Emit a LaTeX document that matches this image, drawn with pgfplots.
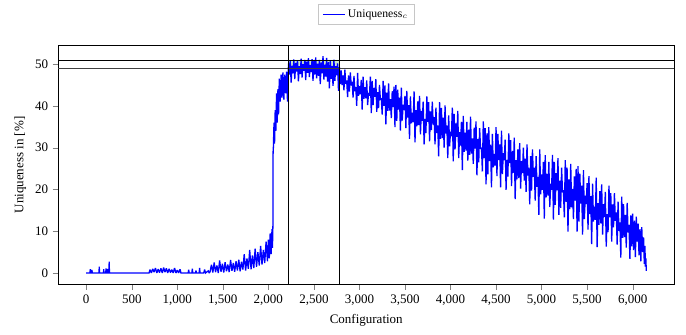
\documentclass[border=0pt]{standalone}
\usepackage{pgfplots}
\pgfplotsset{compat=1.18}
\usepackage{fontspec}
\setmainfont{Liberation Serif}
\definecolor{bandgreen}{RGB}{204,232,204}
\begin{document}
\begin{tikzpicture}
\begin{axis}[
  width=474pt, height=183.5pt, scale only axis,
  xmin=-307.5, xmax=6457.5, ymin=-2.7, ymax=54.4,
  xtick={0,500,...,6000}, ytick={0,10,...,50},
  tick align=outside, tick pos=left,
  /pgf/number format/assume math mode=true,
  /pgf/number format/1000 sep={,},
  xlabel={Configuration}, ylabel={Uniqueness in [\%]},
  tick label style={font=\fontsize{10}{12}\selectfont},
  label style={font=\fontsize{10}{12}\selectfont},
  legend style={at={(0.5,1.088)}, anchor=south, draw=gray!45, font=\fontsize{9}{11}\selectfont},
  legend cell align=left,
]
\addlegendimage{blue, line width=0.6pt}
\addlegendentry{Uniqueness$_c$}
\addplot[fill=bandgreen, draw=none, forget plot] coordinates {(2220,49)(2785,49)(2785,51)(2220,51)(2220,49)};
\addplot[blue, line width=1.0pt, line join=miter, miter limit=2, forget plot] coordinates {
(0,0)(40,0)(45,0.9)(50,0)(60,0)(63,0.7)(66,0)(100,0)(140,0)(143,1.5)(146,0)(190,0)(192,0.9)(195,0)(215,0)(217,1.1)(220,0)(230,0)(232,1)(235,0)(250,0)(252,2.7)(255,0)(690,0)
(700,0.8)(715,0)(730,1)(745,0.2)(760,1.2)(775,0)(790,0.9)(805,0.1)(820,1.1)(835,0)(850,1.3)(865,0.2)(880,1.1)(895,0)(910,1)(925,0.1)(940,0.8)(955,0)(970,1.2)(985,0)(1000,0.7)(1015,0)(1030,0.9)(1040,0)
(1120,0)(1125,0.8)(1130,0)(1160,0)(1165,1)(1170,0)(1200,0)(1205,0.6)(1210,0)(1240,0)(1245,1.2)(1250,0)(1290,0)(1300,0.8)(1310,0)(1340,0.5)(1350,0)
(1360,0.3)(1375,2.0)(1390,0.1)(1405,2.5)(1420,0.2)(1435,1.8)(1450,0)(1465,3.0)(1480,0.3)(1495,2.2)(1510,0.1)(1525,2.6)(1540,0.4)(1555,2.0)(1570,0.2)(1585,3.1)(1600,0.5)(1615,2.4)(1630,0.3)(1645,2.8)(1660,0.6)(1675,3.2)(1690,0.4)(1705,2.7)(1720,0.8)(1735,4.5)(1750,0.6)(1765,3.5)(1780,1.0)(1795,5.5)(1810,0.9)(1825,4.2)(1840,1.2)(1855,5.8)(1870,1.5)(1885,5.0)(1900,1.8)(1915,6.5)(1930,2.0)(1945,5.5)(1960,2.4)(1975,7.5)(1990,2.8)(2000,8.0)(2010,3.5)(2020,9.5)(2030,4.5)(2040,10.5)(2045,6)(2050,11.5)
(2052,29)(2055,30)(2062,36)(2068,31)(2075,39)(2082,34)(2090,43)(2097,36)(2105,44)(2112,38)(2120,46.5)(2130,41)(2140,47.5)(2150,42)(2160,48)(2170,41.5)(2180,47.5)(2190,43)(2200,48.2)(2210,41)(2215,47)
(2222,50.2)(2230,47.5)(2240,50.8)(2250,45.6)(2260,49.6)(2270,47.8)(2280,51.1)(2290,46.4)(2300,50.3)(2310,48.2)(2320,50.9)(2330,45.9)(2340,49.5)(2350,47.6)(2360,51.3)(2370,46.8)(2380,50.0)(2390,48.4)(2400,51.0)(2410,46.2)(2420,50.6)(2430,47.9)(2440,51.4)(2450,46.9)(2460,49.8)(2470,48.1)(2480,51.2)(2490,46.0)(2500,50.7)(2510,47.5)(2520,51.6)(2530,46.6)(2540,50.1)(2550,47.2)(2560,51.0)(2570,45.2)(2580,50.4)(2590,47.8)(2600,51.9)(2610,46.3)(2620,49.9)(2630,47.0)(2640,51.5)(2650,45.8)(2660,50.5)(2670,44.2)(2680,50.8)(2690,46.5)(2700,49.6)(2710,44.8)(2720,51.1)(2730,46.0)(2740,49.5)(2750,47.3)(2760,50.2)(2770,43.6)(2780,49.3)(2790,45.2)
(2800,48.5)(2810,45.0)(2820,47.3)(2830,43.7)(2840,48.7)(2850,45.3)(2860,46.1)(2870,42.1)(2880,47.3)(2890,43.4)(2900,48.0)(2910,44.9)(2920,45.8)(2930,42.0)(2940,47.2)(2950,43.5)(2960,44.5)(2970,40.0)(2980,47.9)(2990,42.4)
(3000,44.7)(3010,42.8)(3020,46.2)(3030,39.1)(3040,47.0)(3050,41.7)(3060,44.5)(3070,41.8)(3080,46.1)(3090,40.2)(3100,43.1)(3110,42.4)(3120,47.0)(3130,38.3)(3140,46.0)(3150,40.2)(3160,44.3)(3170,42.2)(3180,46.4)(3190,38.6)
(3200,43.3)(3210,39.5)(3220,45.0)(3230,41.6)(3240,41.7)(3250,37.9)(3260,46.0)(3270,40.0)(3280,44.9)(3290,35.6)(3300,43.2)(3310,38.8)(3320,45.4)(3330,38.9)(3340,41.6)(3350,37.1)(3360,43.5)(3370,39.7)(3380,44.6)(3390,34.9)
(3400,45.0)(3410,36.4)(3420,43.9)(3430,39.1)(3440,42.0)(3450,34.1)(3460,44.4)(3470,36.5)(3480,40.3)(3490,39.0)(3500,42.4)(3510,34.7)(3520,43.6)(3530,37.2)(3540,40.2)(3550,32.1)(3560,42.3)(3570,35.8)(3580,38.4)(3590,36.1)
(3600,43.5)(3610,31.3)(3620,39.0)(3630,35.1)(3640,41.1)(3650,35.4)(3660,42.4)(3670,33.2)(3680,38.8)(3690,36.4)(3700,41.0)(3710,30.8)(3720,36.9)(3730,33.5)(3740,42.3)(3750,36.2)(3760,40.9)(3770,31.5)(3780,38.7)(3790,34.2)
(3800,41.0)(3810,35.5)(3820,37.3)(3830,30.8)(3840,39.6)(3850,33.5)(3860,35.3)(3870,27.9)(3880,40.9)(3890,32.1)(3900,39.5)(3910,32.3)(3920,37.2)(3930,30.0)(3940,40.1)(3950,33.4)(3960,35.3)(3970,27.5)(3980,37.7)(3990,30.3)
(4000,33.8)(4010,32.7)(4020,39.6)(4030,26.7)(4040,38.1)(4050,29.6)(4060,35.8)(4070,32.6)(4080,38.8)(4090,27.5)(4100,33.7)(4110,30.5)(4120,36.2)(4130,24.6)(4140,37.6)(4150,29.0)(4160,33.6)(4170,29.3)(4180,36.2)(4190,26.9)
(4200,34.3)(4210,28.3)(4220,37.4)(4230,28.6)(4240,32.2)(4250,26.1)(4260,34.8)(4270,29.8)(4280,36.3)(4290,23.4)(4300,32.1)(4310,26.5)(4320,34.7)(4330,29.7)(4340,30.0)(4350,24.3)(4360,36.3)(4370,27.5)(4380,34.7)(4390,21.2)
(4400,33.4)(4410,23.6)(4420,34.9)(4430,26.8)(4440,30.7)(4450,20.5)(4460,33.3)(4470,25.3)(4480,28.5)(4490,25.7)(4500,34.9)(4510,23.2)(4520,33.3)(4530,27.0)(4540,30.8)(4550,20.5)(4560,34.1)(4570,23.7)(4580,28.7)(4590,27.0)
(4600,31.9)(4610,19.9)(4620,27.1)(4630,23.1)(4640,33.4)(4650,26.3)(4660,31.8)(4670,20.8)(4680,29.2)(4690,24.0)(4700,32.4)(4710,17.7)(4720,27.0)(4730,22.4)(4740,29.6)(4750,22.7)(4760,31.1)(4770,20.2)(4780,26.8)(4790,23.9)
(4800,30.0)(4810,22.1)(4820,27.4)(4830,19.4)(4840,30.8)(4850,23.3)(4860,25.2)(4870,16.4)(4880,28.0)(4890,19.7)(4900,29.6)(4910,23.0)(4920,25.2)(4930,17.3)(4940,28.0)(4950,20.6)(4960,23.0)(4970,13.9)(4980,29.6)(4990,18.8)
(5000,23.6)(5010,19.9)(5020,26.6)(5030,13.0)(5040,28.2)(5050,18.1)(5060,23.7)(5070,18.5)(5080,26.6)(5090,15.8)(5100,21.4)(5110,19.9)(5120,28.3)(5130,12.8)(5140,26.6)(5150,16.3)(5160,23.9)(5170,19.8)(5180,27.5)(5190,13.9)
(5200,22.1)(5210,15.6)(5220,25.2)(5230,19.3)(5240,19.8)(5250,13.3)(5260,27.0)(5270,17.0)(5280,25.2)(5290,9.9)(5300,22.4)(5310,15.3)(5320,26.1)(5330,15.7)(5340,20.1)(5350,12.9)(5360,23.1)(5370,17.3)(5380,24.9)(5390,9.9)
(5400,25.6)(5410,12.3)(5420,23.8)(5430,16.6)(5440,20.9)(5450,9.2)(5460,24.6)(5470,12.9)(5480,18.5)(5490,16.5)(5500,21.5)(5510,10.4)(5520,23.2)(5530,14.1)(5540,18.4)(5550,6.9)(5560,21.4)(5570,12.3)(5580,15.9)(5590,12.7)
(5600,22.8)(5610,6.2)(5620,16.7)(5630,11.5)(5640,19.6)(5650,11.9)(5660,21.2)(5670,9.2)(5680,16.5)(5690,13.4)(5700,19.4)(5710,6.3)(5720,14.1)(5730,9.8)(5740,20.9)(5750,13.3)(5760,19.1)(5770,7.5)(5780,16.4)(5790,10.9)
(5800,19.1)(5810,12.5)(5820,14.5)(5830,6.8)(5840,17.1)(5850,10.1)(5860,12.1)(5870,3.7)(5880,18.3)(5890,8.4)(5900,16.5)(5910,8.6)(5920,13.9)(5930,6.1)(5940,16.8)(5950,9.7)(5960,11.5)(5970,3.4)(5980,13.8)(5990,6.4)
(6000,14.2)(6010,5.5)(6020,12.5)(6030,3.8)(6040,13.5)(6050,7.5)(6060,11.8)(6070,4.2)(6080,10.5)(6090,2.8)(6100,11)(6110,5)(6120,8.5)(6128,2.2)(6135,6.5)(6140,1.5)(6145,3.5)(6150,0.5)
};
\addplot[black, line width=0.6pt, forget plot] coordinates {(-307.5,51)(6457.5,51)};
\addplot[black!75, line width=0.8pt, forget plot] coordinates {(-307.5,49)(6457.5,49)};
\addplot[black, line width=0.6pt, forget plot] coordinates {(2220,-2.7)(2220,54.4)};
\addplot[black, line width=0.6pt, forget plot] coordinates {(2785,-2.7)(2785,54.4)};
\end{axis}
\path ([xshift=-44.8pt,yshift=-39pt]current axis.south west) rectangle ([xshift=9pt,yshift=35.2pt]current axis.north east);
\end{tikzpicture}
\end{document}
